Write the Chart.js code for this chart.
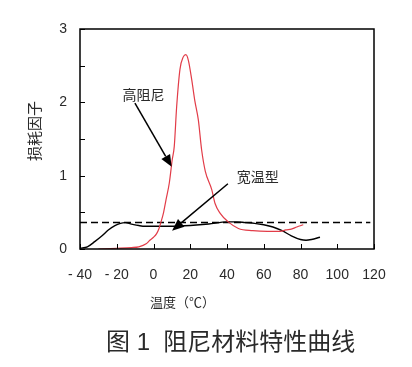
<!DOCTYPE html>
<html>
<head>
<meta charset="utf-8">
<script src="https://cdn.jsdelivr.net/npm/chart.js@4"></script>
<style>
	body { margin: 0; background: #fff; }
	#wrap { width: 412px; height: 367px; position: relative; }
</style>
</head>
<body>
<div id="wrap"><canvas id="lossChart"></canvas></div>
<script>
// ===== Data =====
// 高阻尼 (red) curve: temperature (°C) and loss factor
const dampTemps = [-30, -20, -12, -8, -4, -2, 0, 1.7, 3, 4.1, 5.5, 6.8, 8.6, 10.2, 11.3, 12.6, 14.4, 16.2, 17.6, 19, 20.8, 22.5, 24.4, 26.2, 28.2, 31.7, 33.5, 36.2, 40.7, 46.2, 54, 62, 69, 72, 75, 78, 81.5];
const dampLoss = [0, 0.01, 0.02, 0.03, 0.07, 0.12, 0.16, 0.21, 0.28, 0.37, 0.5, 0.67, 0.9, 1.22, 1.4, 1.94, 2.45, 2.62, 2.65, 2.57, 2.31, 2.02, 1.76, 1.35, 1.06, 0.81, 0.62, 0.49, 0.37, 0.28, 0.25, 0.24, 0.24, 0.26, 0.27, 0.3, 0.33];

// 宽温型 (black) curve
const wideTemps = [-40, -36, -32, -28, -24.6, -21, -18, -15.5, -12, -8, -4.6, 0, 10, 20, 30, 40, 45, 50, 55, 60, 65, 70, 75, 80, 83, 86, 90.6];
const wideLoss = [0.01, 0.03, 0.1, 0.18, 0.26, 0.32, 0.35, 0.36, 0.34, 0.32, 0.31, 0.31, 0.31, 0.32, 0.34, 0.37, 0.37, 0.36, 0.35, 0.33, 0.3, 0.25, 0.18, 0.13, 0.12, 0.13, 0.16];

// dashed reference level
const refTemps = [-40, 118];
const refLoss = [0.36, 0.36];

// axis ticks
const xTicks = [-40, -20, 0, 20, 40, 60, 80, 100, 120];
const yTicks = [0, 1, 2, 3];

// labels
const yTitle = "损耗因子";
const xTitle = "温度（℃）";
const caption = "图 1  阻尼材料特性曲线";

// arrow annotations in data coords: label, label position, arrow tail, arrow tip
const notes = [
	{ text: "高阻尼", at: [-5.4, 2.08], from: [-10.1, 1.99], to: [9.9, 1.12] },
	{ text: "宽温型", at: [56.7, 0.96], from: [40.5, 0.89], to: [10.1, 0.25] },
];

const FONT = "'Liberation Sans', 'Noto Sans CJK SC', sans-serif";
const TEXT = "#2a2a2a";

const toPoints = (xs, ys) => xs.map((x, i) => ({ x, y: ys[i] }));

// ===== Plugin: frame, inside ticks, arrows, titles =====
const decorations = {
	id: "decorations",
	afterDraw(chart) {
		const { ctx, chartArea: a, scales } = chart;
		const xs = scales.x, ys = scales.y;
		ctx.save();

		// frame
		ctx.strokeStyle = "#000";
		ctx.lineWidth = 1.5;
		ctx.strokeRect(a.left, a.top, a.right - a.left, a.bottom - a.top);

		// inside tick marks
		ctx.lineWidth = 1;
		ctx.beginPath();
		ys.ticks.forEach((t) => {
			const py = Math.round(ys.getPixelForValue(t.value)) + 0.5;
			ctx.moveTo(a.left, py);
			ctx.lineTo(a.left + 5, py);
		});
		xTicks.forEach((v) => {
			const px = Math.round(xs.getPixelForValue(v)) + 0.5;
			ctx.moveTo(px, a.bottom);
			ctx.lineTo(px, a.bottom - 5);
		});
		ctx.stroke();

		// arrows + labels
		notes.forEach((n) => {
			const x1 = xs.getPixelForValue(n.from[0]), y1 = ys.getPixelForValue(n.from[1]);
			const x2 = xs.getPixelForValue(n.to[0]), y2 = ys.getPixelForValue(n.to[1]);
			const ang = Math.atan2(y2 - y1, x2 - x1);
			const len = 12, half = 5;
			const bx = x2 - len * Math.cos(ang), by = y2 - len * Math.sin(ang);
			ctx.fillStyle = "#000";
			ctx.lineWidth = 1.5;
			ctx.beginPath();
			ctx.moveTo(x1, y1);
			ctx.lineTo(bx, by);
			ctx.stroke();
			ctx.beginPath();
			ctx.moveTo(x2, y2);
			ctx.lineTo(bx + half * Math.sin(ang), by - half * Math.cos(ang));
			ctx.lineTo(bx - half * Math.sin(ang), by + half * Math.cos(ang));
			ctx.closePath();
			ctx.fill();

			ctx.fillStyle = TEXT;
			ctx.font = "14px " + FONT;
			ctx.textAlign = "center";
			ctx.textBaseline = "middle";
			ctx.fillText(n.text, xs.getPixelForValue(n.at[0]), ys.getPixelForValue(n.at[1]));
		});

		// y axis title (rotated)
		ctx.save();
		ctx.translate(36, 131);
		ctx.rotate(-Math.PI / 2);
		ctx.font = "15px " + FONT;
		ctx.fillStyle = TEXT;
		ctx.textAlign = "center";
		ctx.textBaseline = "middle";
		ctx.fillText(yTitle, 0, 0);
		ctx.restore();

		// x axis title
		ctx.font = "13px " + FONT;
		ctx.fillStyle = TEXT;
		ctx.textAlign = "left";
		ctx.textBaseline = "middle";
		ctx.fillText(xTitle, 150, 303);

		// figure caption
		ctx.font = "24px " + FONT;
		ctx.fillText(caption, 106, 343);

		ctx.restore();
	},
};

const ctx = document.getElementById("lossChart").getContext("2d");
new Chart(ctx, {
	type: "scatter",
	data: {
		datasets: [
			{
				label: "高阻尼",
				data: toPoints(dampTemps, dampLoss),
				showLine: true,
				borderColor: "#e23c48",
				borderWidth: 1.2,
				pointRadius: 0,
				cubicInterpolationMode: "monotone",
			},
			{
				label: "宽温型",
				data: toPoints(wideTemps, wideLoss),
				showLine: true,
				borderColor: "#000",
				borderWidth: 1.4,
				pointRadius: 0,
				cubicInterpolationMode: "monotone",
			},
			{
				label: "ref",
				data: toPoints(refTemps, refLoss),
				showLine: true,
				borderColor: "#000",
				borderWidth: 1.5,
				borderDash: [7, 4],
				pointRadius: 0,
			},
		],
	},
	options: {
		responsive: true,
		maintainAspectRatio: false,
		animation: false,
		layout: { padding: { top: 29, right: 38, left: 0, bottom: 0 } },
		plugins: {
			legend: { display: false },
			tooltip: { enabled: false },
		},
		scales: {
			x: {
				type: "linear",
				min: -40,
				max: 120,
				afterFit: (s) => { s.height = 118; },
				afterBuildTicks: (s) => { s.ticks = xTicks.map((v) => ({ value: v })); },
				grid: { display: false, drawTicks: false },
				border: { display: false },
				ticks: {
					padding: 18,
					color: TEXT,
					font: { family: FONT, size: 14 },
					maxRotation: 0,
					callback: (v) => (v < 0 ? "- " + -v : v),
				},
			},
			y: {
				min: 0,
				max: 3,
				afterFit: (s) => { s.width = 80; },
				grid: { display: false, drawTicks: false },
				border: { display: false },
				ticks: {
					stepSize: 0.5,
					padding: 13,
					color: TEXT,
					font: { family: FONT, size: 14 },
					callback: (v) => (yTicks.includes(v) ? v : ""),
				},
			},
		},
	},
	plugins: [decorations],
});
</script>
</body>
</html>
